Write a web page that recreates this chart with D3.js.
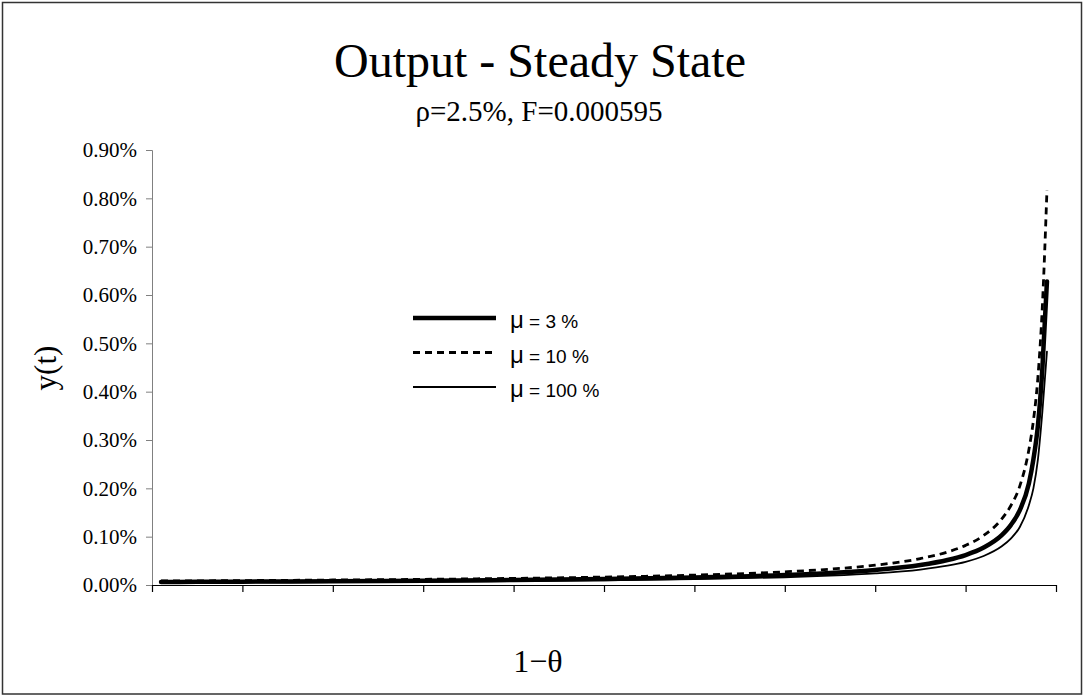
<!DOCTYPE html>
<html>
<head>
<meta charset="utf-8">
<script src="https://cdn.jsdelivr.net/npm/d3@7"></script>
<style>
  body { margin: 0; background: #ffffff; }
  text { fill: #000000; }
</style>
</head>
<body>
<div id="container"></div>
<script>
"use strict";

// 1 - theta positions of the sampled points
const xValues = [0.01, 0.05, 0.1, 0.2, 0.3, 0.4, 0.5, 0.6, 0.7, 0.75, 0.8, 0.85, 0.88, 0.9, 0.92, 0.94, 0.95, 0.96, 0.97, 0.975, 0.98, 0.985, 0.99];

// y(t) in percent
const mu3 = [0.0063, 0.0065, 0.0069, 0.0078, 0.0089, 0.0103, 0.0124, 0.0155, 0.0207, 0.0248, 0.031, 0.0413, 0.0517, 0.062, 0.0775, 0.1033, 0.124, 0.155, 0.21, 0.26, 0.33, 0.45, 0.628];
const mu10 = [0.0083, 0.0086, 0.0091, 0.0103, 0.0117, 0.0137, 0.0164, 0.0205, 0.0273, 0.0328, 0.041, 0.0547, 0.0683, 0.082, 0.1025, 0.1367, 0.164, 0.205, 0.28, 0.34, 0.43, 0.58, 0.817];
const mu100 = [0.0048, 0.0051, 0.0053, 0.006, 0.0069, 0.008, 0.0096, 0.012, 0.016, 0.0192, 0.024, 0.032, 0.04, 0.048, 0.06, 0.08, 0.096, 0.12, 0.165, 0.2, 0.26, 0.36, 0.483];

const seriesNames = ["\u03bc = 3 %", "\u03bc = 10 %", "\u03bc = 100 %"];
const yTicks = [0, 0.1, 0.2, 0.3, 0.4, 0.5, 0.6, 0.7, 0.8, 0.9];
const xTicks = [0, 0.1, 0.2, 0.3, 0.4, 0.5, 0.6, 0.7, 0.8, 0.9, 1];

const width = 1084;
const height = 696;
const plot = { left: 152, right: 1056, top: 150, bottom: 585 };
const serif = "'Liberation Serif', 'Times New Roman', serif";

const series = [
  { name: seriesNames[0], values: mu3, width: 4.5, dash: null },
  { name: seriesNames[1], values: mu10, width: 2.8, dash: "7,5" },
  { name: seriesNames[2], values: mu100, width: 1.8, dash: null }
];

const xScale = d3.scaleLinear().domain([0, 1]).range([plot.left, plot.right]);
const yScale = d3.scaleLinear().domain([0, 0.9]).range([plot.bottom, plot.top]);

const svg = d3.create("svg").attr("width", width).attr("height", height);

// Chart border.
svg.append("rect")
  .attr("x", 2.5).attr("y", 2.5)
  .attr("width", 1079).attr("height", 691.5)
  .attr("fill", "#ffffff")
  .attr("stroke", "#333333")
  .attr("stroke-width", 1.5);

// Titles.
svg.append("text")
  .attr("x", 540).attr("y", 77)
  .attr("text-anchor", "middle")
  .style("font-family", serif)
  .style("font-size", "48px")
  .text("Output - Steady State");
svg.append("text")
  .attr("x", 539).attr("y", 121)
  .attr("text-anchor", "middle")
  .style("font-family", serif)
  .style("font-size", "29px")
  .text("\u03c1=2.5%, F=0.000595");

// Y axis.
svg.append("g")
  .attr("transform", `translate(${plot.left}, 0)`)
  .call(d3.axisLeft(yScale).tickValues(yTicks).tickSize(6).tickPadding(9)
    .tickFormat((d) => d.toFixed(2) + "%"))
  .call((g) => g.attr("font-family", null).attr("font-size", null))
  .call((g) => g.selectAll("line, path").attr("stroke", "#808080"))
  .call((g) => g.selectAll("text")
    .style("font-family", serif)
    .style("font-size", "21px"));

// X axis, ticks only.
svg.append("g")
  .attr("transform", `translate(0, ${plot.bottom})`)
  .call(d3.axisBottom(xScale).tickValues(xTicks).tickSize(7).tickSizeOuter(0).tickFormat(""))
  .call((g) => g.selectAll("line, path").attr("stroke", "#000000").attr("stroke-width", 1.2));

// Axis titles.
svg.append("text")
  .attr("transform", "translate(56, 368) rotate(-90)")
  .attr("text-anchor", "middle")
  .style("font-family", serif)
  .style("font-size", "31px")
  .text("y(t)");
svg.append("text")
  .attr("x", 538).attr("y", 672)
  .attr("text-anchor", "middle")
  .style("font-family", serif)
  .style("font-size", "32px")
  .text("1\u2212\u03b8");

// Curves.
const line = d3.line()
  .x((d, i) => xScale(xValues[i]))
  .y((d) => yScale(d))
  .curve(d3.curveMonotoneX);

svg.append("g")
  .selectAll("path")
  .data(series)
  .join("path")
  .attr("d", (s) => line(s.values))
  .attr("fill", "none")
  .attr("stroke", "#000000")
  .attr("stroke-width", (s) => s.width)
  .attr("stroke-dasharray", (s) => s.dash)
  .attr("stroke-linecap", (s) => (s.dash ? "butt" : "round"));

// Legend.
const legend = svg.append("g");
const rows = legend.selectAll("g")
  .data(series)
  .join("g")
  .attr("transform", (s, i) => `translate(413, ${318 + i * 34.5})`);
rows.append("line")
  .attr("x1", 0).attr("x2", 83)
  .attr("stroke", "#000000")
  .attr("stroke-width", (s) => s.width)
  .attr("stroke-dasharray", (s) => s.dash);
const label = rows.append("text")
  .attr("x", 97).attr("y", 10)
  .style("font-family", "'Liberation Sans', Arial, sans-serif")
  .style("font-size", "19px");
label.append("tspan")
  .style("font-size", "24px")
  .text((s) => s.name.slice(0, 1));
label.append("tspan")
  .text((s) => s.name.slice(1));

d3.select("#container").append(() => svg.node());
</script>
</body>
</html>
